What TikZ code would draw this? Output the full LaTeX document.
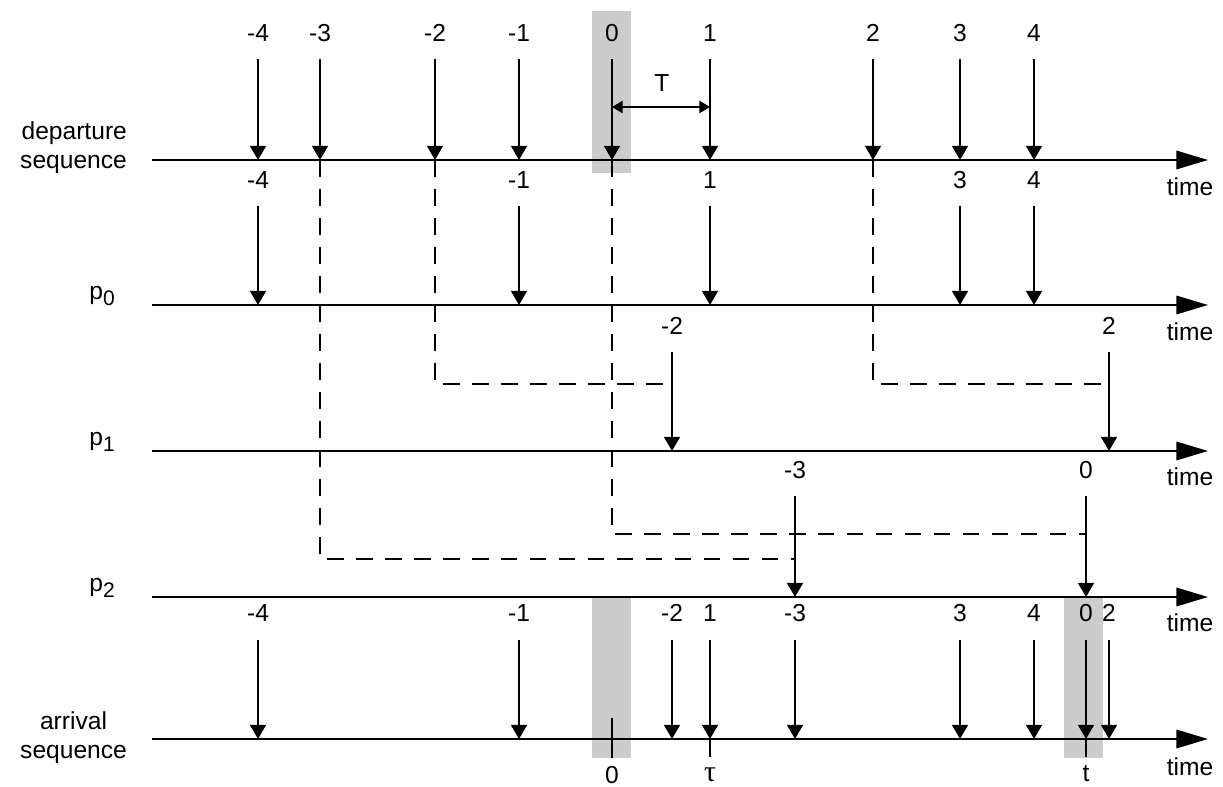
\documentclass[tikz,border=0pt]{standalone}
\usepackage{fontspec}
\setmainfont{Liberation Sans}
\newfontfamily\symfont{Liberation Serif}
\usetikzlibrary{arrows.meta}

\newcommand{\pidx}[1]{p\raisebox{-0.45ex}{\fontsize{12}{13}\selectfont #1}}

\begin{document}
\begin{tikzpicture}[
  x=0.02cm, y=-0.02cm,
  every node/.style={font=\fontsize{14}{16.5}\selectfont, inner sep=1pt},
  axis/.style={line width=1.1pt, -{Triangle[length=18pt,width=10.5pt]}},
  ev/.style={line width=1.1pt, -{Triangle[length=8pt,width=9pt]}, shorten <=0.53cm},
  route/.style={line width=1.1pt, dash pattern=on 9.5pt off 7pt},
  tick/.style={line width=1.1pt},
  slot/.style={fill=black!20},
  seqlabel/.style={anchor=east, align=right},
]
  \useasboundingbox (0,0) rectangle (1223,787);

  % shaded slots
  \fill[slot] (592,11) rectangle (631,173);
  \fill[slot] (592,598) rectangle (631,758);
  \fill[slot] (1064,598) rectangle (1103,758);

  % time axes
  \coordinate (dep) at (152,160);
  \coordinate (pz) at (152,305);
  \coordinate (po) at (152,451);
  \coordinate (pt) at (152,597);
  \coordinate (arr) at (152,739);
  \coordinate (tend) at (1208,0);

  \draw[axis] (dep) -- (dep -| tend);
  \draw[axis] (pz) -- (pz -| tend);
  \draw[axis] (po) -- (po -| tend);
  \draw[axis] (pt) -- (pt -| tend);
  \draw[axis] (arr) -- (arr -| tend);

  \node[seqlabel] (ldep) at (129,148) {departure\\sequence};
  \node[seqlabel] (lpz) at (117,296) {\pidx{0}};
  \node[seqlabel] (lpo) at (117,442) {\pidx{1}};
  \node[seqlabel] (lpt) at (117,588) {\pidx{2}};
  \node[anchor=east, align=center] (larr) at (129,738) {arrival\\sequence};

  \node (tm0) at (1190,187) {time};
  \node (tm1) at (1190,332) {time};
  \node (tm2) at (1190,477) {time};
  \node (tm3) at (1190,623) {time};
  \node (tm4) at (1190,767) {time};

  % departure sequence
  \foreach \n/\x in {-4/258,-3/320,-2/435,-1/519,0/612,1/710,2/873,3/960,4/1034}{
    \node (d\n) at (\x,33) {\n};
    \draw[ev] (d\n.center) -- (d\n.center |- dep);
  }

  % period T
  \node (T) at (662,83) {T};
  \coordinate (tl) at (612,107);
  \draw[line width=0.6pt, {Triangle[length=6pt,width=7pt]}-{Triangle[length=6pt,width=7pt]}]
    (tl) -- (tl -| d1);

  % path p0
  \foreach \n/\x in {-4/258,-1/519,1/710,3/960,4/1034}{
    \node (a\n) at (\x,180) {\n};
    \draw[ev] (a\n.center) -- (a\n.center |- pz);
  }

  % path p1
  \foreach \n/\x in {-2/672,2/1109}{
    \node (b\n) at (\x,326) {\n};
    \draw[ev] (b\n.center) -- (b\n.center |- po);
  }

  % path p2
  \foreach \n/\x in {-3/795,0/1086}{
    \node (c\n) at (\x,470) {\n};
    \draw[ev] (c\n.center) -- (c\n.center |- pt);
  }

  % routing of the diverted packets
  \coordinate (ro) at (0,384);
  \coordinate (rt) at (0,534);
  \coordinate (rr) at (0,559);
  \draw[route] (d-2.center |- dep) |- (b-2.center |- ro);
  \draw[route] (d2.center |- dep) |- (b2.center |- ro);
  \draw[route] (d0.center |- dep) |- (c0.center |- rt);
  \draw[route] (d-3.center |- dep) |- (c-3.center |- rr);

  % arrival sequence
  \foreach \n/\x in {-4/258,-1/519,-2/672,1/710,-3/795,3/960,4/1034,0/1086,2/1109}{
    \node (e\n) at (\x,613) {\n};
    \draw[ev] (e\n.center) -- (e\n.center |- arr);
  }

  % reference instants
  \node (zs) at (612,775) {0};
  \node[font=\symfont\fontsize{17}{18}\selectfont] (tau) at (710,775) {τ};
  \node (tt) at (1086,774) {t};
  \draw[tick] (zs.center |- arr) ++(0,-21) -- ++(0,40);
  \draw[tick] (tau.center |- arr) -- ++(0,18);
  \draw[tick] (tt.center |- arr) -- ++(0,18);
\end{tikzpicture}
\end{document}
